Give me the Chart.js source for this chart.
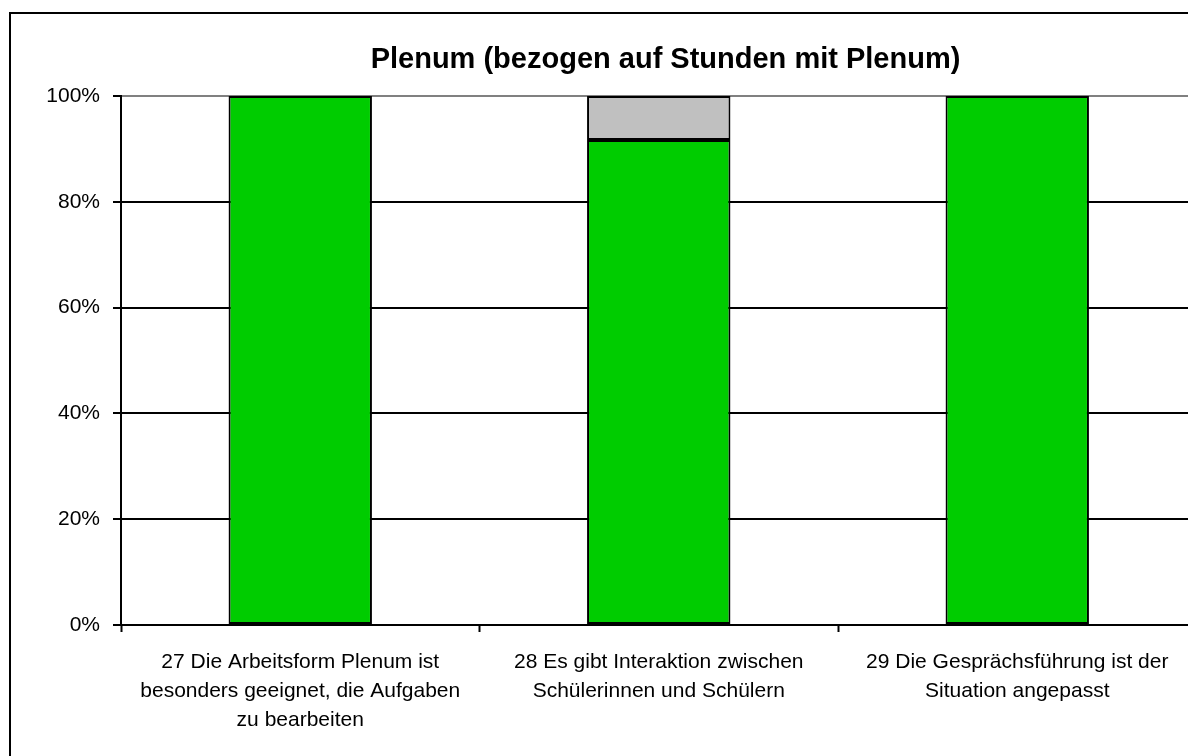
<!DOCTYPE html>
<html>
<head>
<meta charset="utf-8">
<script src="https://cdn.jsdelivr.net/npm/chart.js@4"></script>
<style>
    body { margin: 0; overflow: hidden; background: #fff; }
    #frame { position: absolute; left: 9px; top: 12px; width: 1400px; height: 900px;
             border-left: 2px solid #000; border-top: 2px solid #000; }
    #plenum { position: absolute; left: 0; top: 0; }
</style>
</head>
<body>
<div id="frame"></div>
<canvas id="plenum" width="1331" height="756"></canvas>
<script>
// Kategorien (mehrzeilige Beschriftung)
const categories = [
    ['27 Die Arbeitsform Plenum ist', 'besonders geeignet, die Aufgaben', 'zu bearbeiten'],
    ['28 Es gibt Interaktion zwischen', 'Schülerinnen und Schülern'],
    ['29 Die Gesprächsführung ist der', 'Situation angepasst']
];
// Anteile in %
const greenValues = [100, 91.7, 100];
const greyValues = [null, 8.3, null];
const yTicks = [0, 20, 40, 60, 80, 100];

const chartTitle = 'Plenum (bezogen auf Stunden mit Plenum)';
const fontFamily = "'Liberation Sans', Arial, sans-serif";

new Chart(document.getElementById('plenum'), {
    type: 'bar',
    data: {
        labels: categories,
        datasets: [
            {
                label: 'ja',
                data: greenValues,
                backgroundColor: '#00CC00',
                borderColor: '#000000',
                borderWidth: 2,
                borderSkipped: false
            },
            {
                label: 'keine Angabe',
                data: greyValues,
                backgroundColor: '#C0C0C0',
                borderColor: '#000000',
                borderWidth: 2,
                borderSkipped: false
            }
        ]
    },
    options: {
        responsive: false,
        animation: false,
        events: [],
        layout: {padding: 0},
        datasets: {
            bar: {barPercentage: 0.4, categoryPercentage: 1}
        },
        plugins: {
            legend: {display: false},
            tooltip: {enabled: false},
            title: {
                display: true,
                text: chartTitle,
                color: '#000',
                font: {family: fontFamily, size: 29, weight: 'bold', lineHeight: 1.2},
                padding: {top: 42.5, bottom: 18.7}
            }
        },
        scales: {
            x: {
                stacked: true,
                grid: {
                    drawOnChartArea: false,
                    drawTicks: true,
                    tickLength: 7,
                    tickWidth: 2,
                    tickColor: '#000'
                },
                border: {color: '#000', width: 2},
                ticks: {
                    color: '#000',
                    padding: 15.5,
                    maxRotation: 0,
                    autoSkip: false,
                    font: {family: fontFamily, size: 21, lineHeight: 1.38}
                },
                afterFit: (scale) => { scale.height = 131; }
            },
            y: {
                stacked: true,
                min: 0,
                max: 100,
                afterBuildTicks: (scale) => { scale.ticks = yTicks.map(v => ({value: v})); },
                grid: {
                    color: (ctx) => ctx.tick && ctx.tick.value === 100 ? '#808080' : '#000',
                    lineWidth: 2,
                    tickLength: 8,
                    tickColor: '#000'
                },
                border: {color: '#000', width: 2},
                ticks: {
                    color: '#000',
                    padding: 13,
                    font: {family: fontFamily, size: 21},
                    callback: (v) => v + '%'
                },
                afterFit: (scale) => { scale.width = 121; }
            },
            // leere Achse rechts, damit der Titel wie im Original sitzt
            yRight: {
                type: 'linear',
                position: 'right',
                display: true,
                grid: {display: false},
                border: {display: false},
                ticks: {display: false},
                afterFit: (scale) => { scale.width = 134.5; }
            }
        }
    }
});
</script>
</body>
</html>
